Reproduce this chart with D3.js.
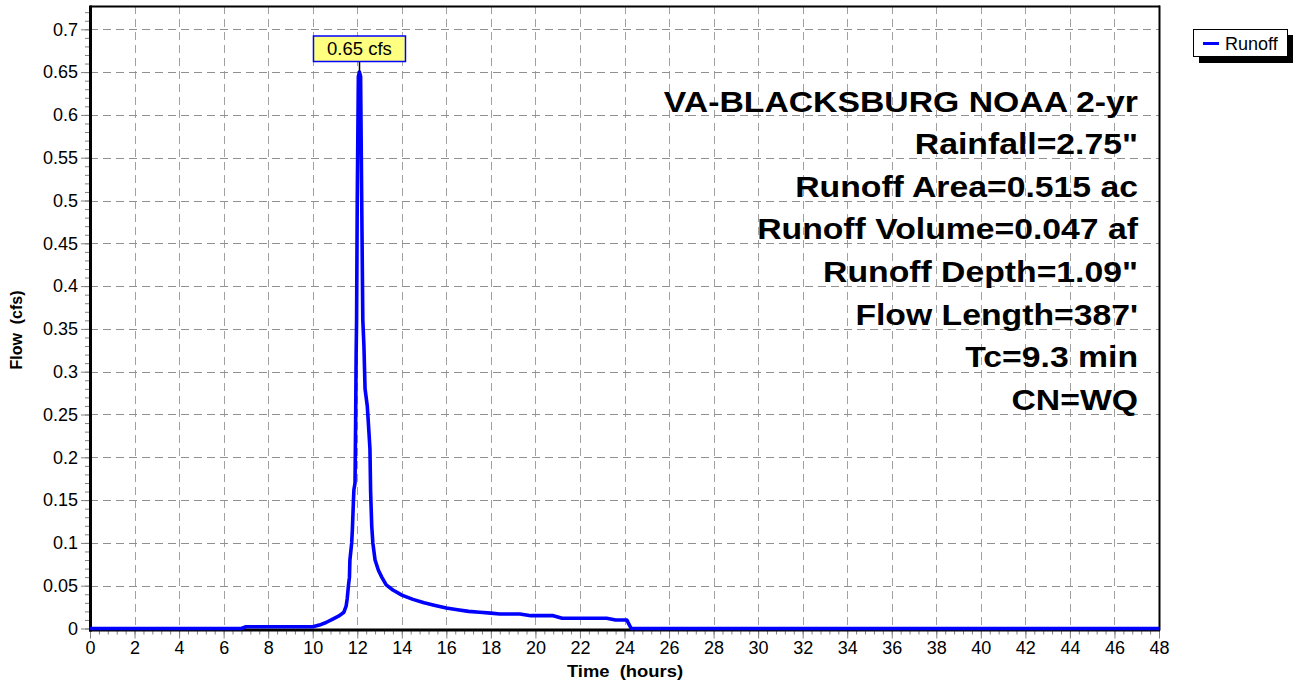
<!DOCTYPE html>
<html><head><meta charset="utf-8">
<script src="https://cdn.jsdelivr.net/npm/d3@7"></script>
<style>
body{margin:0;background:#fff;}
svg{display:block;font-family:"Liberation Sans",Arial,sans-serif;}
</style>
</head><body>
<svg id="c" width="1294" height="683"></svg>
<script>
// ---- data ----
const timeHours = [0,6.8,7.0,10.0,10.3,10.6,10.9,11.2,11.4,11.5,11.55,11.6,11.65,11.67,11.75,11.78,11.83,11.85,11.9,11.93,11.95,11.97,12.0,12.05,12.1,12.15,12.2,12.25,12.3,12.35,12.45,12.5,12.57,12.6,12.65,12.7,12.8,12.95,13.1,13.3,13.6,14.0,14.5,15.0,15.5,16.0,16.5,17.0,17.5,18.0,18.4,19.3,19.8,20.8,21.2,23.2,23.6,24.1,24.3,48];
const flowCfs   = [0,0,0.002,0.002,0.004,0.007,0.011,0.015,0.019,0.026,0.035,0.049,0.06,0.08,0.10,0.115,0.15,0.162,0.17,0.25,0.32,0.36,0.5,0.645,0.65,0.645,0.5,0.36,0.33,0.28,0.26,0.24,0.21,0.16,0.12,0.10,0.08,0.068,0.06,0.051,0.045,0.039,0.034,0.03,0.027,0.024,0.022,0.02,0.019,0.018,0.017,0.017,0.015,0.015,0.012,0.012,0.010,0.010,0,0];
const xTickValues = [0,2,4,6,8,10,12,14,16,18,20,22,24,26,28,30,32,34,36,38,40,42,44,46,48];
const yTickValues = [0,0.05,0.1,0.15,0.2,0.25,0.3,0.35,0.4,0.45,0.5,0.55,0.6,0.65,0.7];
const yTickLabels = ["0","0.05","0.1","0.15","0.2","0.25","0.3","0.35","0.4","0.45","0.5","0.55","0.6","0.65","0.7"];
const infoLines = ["VA-BLACKSBURG NOAA 2-yr","Rainfall=2.75\"","Runoff Area=0.515 ac","Runoff Volume=0.047 af","Runoff Depth=1.09\"","Flow Length=387'","Tc=9.3 min","CN=WQ"];
const seriesName = "Runoff";
const peakUnit = "cfs";
const xTitle = "Time  (hours)";
const yTitle = "Flow  (cfs)";

// ---- layout ----
const L = 90, R = 1159, T = 6, B = 628.5;
const x = d3.scaleLinear().domain([0,48]).range([L,R]);
const y = d3.scaleLinear().domain([0,0.7]).range([B,29.3]);
const svg = d3.select("#c");
const BLUE = "#0000ff";

// grid
const g = svg.append("g");
g.selectAll(".gx").data(xTickValues.filter(d=>d>0)).enter().append("line")
  .attr("x1",d=>Math.round(x(d))+0.5).attr("x2",d=>Math.round(x(d))+0.5)
  .attr("y1",T).attr("y2",B)
  .attr("stroke","#a0a0a0").attr("stroke-width",1).attr("stroke-dasharray","8,5");
g.selectAll(".gy").data(yTickValues.filter(d=>d>0)).enter().append("line")
  .attr("x1",L).attr("x2",R)
  .attr("y1",d=>Math.round(y(d))+0.5).attr("y2",d=>Math.round(y(d))+0.5)
  .attr("stroke","#909090").attr("stroke-width",1).attr("stroke-dasharray","8,5");

// axes
function styleAxis(sel){
  sel.select(".domain").remove();
  sel.selectAll(".tick line").attr("stroke","#808080");
  sel.selectAll(".tick text").attr("fill","#000").style("font-size","18px").style("font-family",'"Liberation Sans",Arial,sans-serif');
}
const yMinor = d3.range(0,73).map(i=>i/100);
const xMinor = d3.range(0,121).map(i=>i*0.4);
svg.append("g").attr("transform",`translate(${L},0)`)
  .call(d3.axisLeft(y).tickValues(yMinor).tickSize(5).tickFormat("")).call(styleAxis);
svg.append("g").attr("transform",`translate(${L},0)`)
  .call(d3.axisLeft(y).tickValues(yTickValues).tickSize(9).tickPadding(3)
    .tickFormat((d,i)=>yTickLabels[i])).call(styleAxis);
svg.append("g").attr("transform",`translate(0,${B+1})`)
  .call(d3.axisBottom(x).tickValues(xMinor).tickSize(5).tickFormat("")).call(styleAxis);
svg.append("g").attr("transform",`translate(0,${B+1})`)
  .call(d3.axisBottom(x).tickValues(xTickValues).tickSize(9).tickPadding(3)
    .tickFormat(d=>String(d))).call(styleAxis);

// frame
svg.append("line").attr("x1",L).attr("x2",R+1).attr("y1",T+0.5).attr("y2",T+0.5).attr("stroke","#000").attr("stroke-width",2);
svg.append("line").attr("x1",R+0.5).attr("x2",R+0.5).attr("y1",T-0.5).attr("y2",B+2).attr("stroke","#000").attr("stroke-width",2);
svg.append("line").attr("x1",L+0.5).attr("x2",L+0.5).attr("y1",T-0.5).attr("y2",B+3).attr("stroke","#000").attr("stroke-width",3);
svg.append("line").attr("x1",L-1).attr("x2",R+1).attr("y1",B+1.5).attr("y2",B+1.5).attr("stroke","#000").attr("stroke-width",3);

// series
const pts = timeHours.map((t,i)=>[t,flowCfs[i]]);
svg.append("path").datum(pts)
  .attr("d",d3.line().x(d=>x(d[0])).y(d=>y(d[1])))
  .attr("fill","none").attr("stroke",BLUE).attr("stroke-width",3.6)
  .attr("stroke-linejoin","round");

// peak label
const pk = d3.greatestIndex(flowCfs);
const px = x(timeHours[pk]), py = y(flowCfs[pk]);
svg.append("line").attr("x1",Math.round(px)+0.5).attr("x2",Math.round(px)+0.5)
  .attr("y1",61.5).attr("y2",py).attr("stroke","#000").attr("stroke-width",1.5);
svg.append("rect").attr("x",px-46).attr("y",36).attr("width",92).attr("height",25.5)
  .attr("fill","#ffff80").attr("stroke",BLUE).attr("stroke-width",1.5);
svg.append("text").attr("x",px).attr("y",55).attr("text-anchor","middle")
  .style("font-size","18.5px").text(flowCfs[pk].toFixed(2)+" "+peakUnit);

// info text
const info = svg.append("g").attr("transform","translate(1138,0) scale(1.18,1)");
info.selectAll("text").data(infoLines).enter().append("text")
  .attr("x",0).attr("y",(d,i)=>111.7+i*42.6)
  .attr("text-anchor","end").style("font-size","28.6px").style("font-weight","bold")
  .text(d=>d);

// axis titles
svg.append("text").attr("transform","translate(22,330) rotate(-90)")
  .attr("text-anchor","middle").style("font-size","16px").style("font-weight","bold")
  .style("white-space","pre").text(yTitle);
svg.append("g").attr("transform","translate(625,677) scale(1.15,1)")
  .append("text").attr("x",0).attr("y",0).attr("text-anchor","middle")
  .style("font-size","16px").style("font-weight","bold").style("white-space","pre").text(xTitle);

// legend
svg.append("rect").attr("x",1199).attr("y",35).attr("width",94).attr("height",28).attr("fill","#000");
svg.append("rect").attr("x",1193.5).attr("y",29.5).attr("width",94).attr("height",27)
  .attr("fill","#fff").attr("stroke","#000").attr("stroke-width",1);
svg.append("line").attr("x1",1203).attr("x2",1219).attr("y1",43.5).attr("y2",43.5)
  .attr("stroke",BLUE).attr("stroke-width",3);
svg.append("text").attr("x",1225).attr("y",50).style("font-size","18px").text(seriesName);
</script>
</body></html>
